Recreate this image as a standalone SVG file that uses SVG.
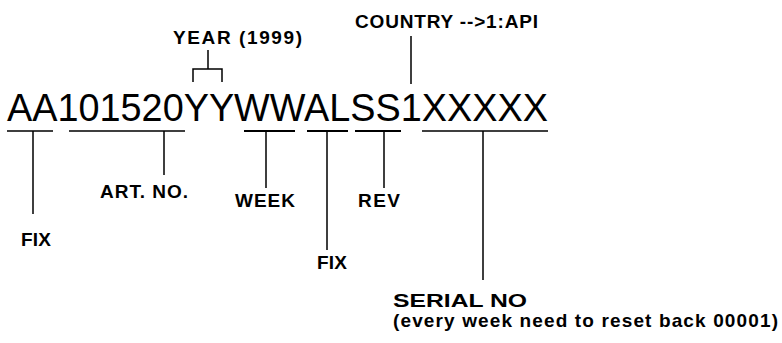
<svg xmlns="http://www.w3.org/2000/svg" width="782" height="343" viewBox="0 0 782 343">
<style>
.lbl{font-family:"Liberation Sans",Arial,sans-serif;font-weight:bold;font-size:19px;fill:#000}
.main{font-family:"Liberation Sans",Arial,sans-serif;font-size:38px;fill:#000}
.ln{stroke:#000;stroke-width:1.5;fill:none}
.ul{stroke:#000;stroke-width:2;fill:none}
</style>
<rect width="782" height="343" fill="#fff"/>
<g id="code"><text class="main" x="7" y="121" textLength="541" lengthAdjust="spacingAndGlyphs">AA101520YYWWALSS1XXXXX</text></g>
<g id="connectors">
<path class="ln" d="M7 131H53M69 131H185M422 131H548"/>
<path class="ul" d="M244 131H295M307 131H348M355 131H401"/>
<path class="ln" d="M33 131V214M164 131V175M266 131V188M327 131V250M384 131V188M483 131V280M411 36V84M208 50V69M193 82V69H222V82"/>
</g>
<g id="year"><text class="lbl" x="173" y="44" textLength="129">YEAR  (1999)</text></g>
<g id="country"><text class="lbl" x="355" y="28" textLength="183">COUNTRY  --&gt;1:API</text></g>
<g id="fix1"><text class="lbl" x="21" y="246" textLength="30">FIX</text></g>
<g id="artno"><text class="lbl" x="100" y="198" textLength="88">ART.  NO.</text></g>
<g id="week"><text class="lbl" x="235" y="207" textLength="60">WEEK</text></g>
<g id="fix2"><text class="lbl" x="317" y="269" textLength="30">FIX</text></g>
<g id="rev"><text class="lbl" x="358" y="207" textLength="42">REV</text></g>
<g id="serial"><text class="lbl" x="393" y="307" font-size="21" textLength="134" lengthAdjust="spacingAndGlyphs">SERIAL  NO</text>
<text class="lbl" x="393" y="327" textLength="385">(every  week  need  to  reset  back  00001)</text></g>
</svg>
